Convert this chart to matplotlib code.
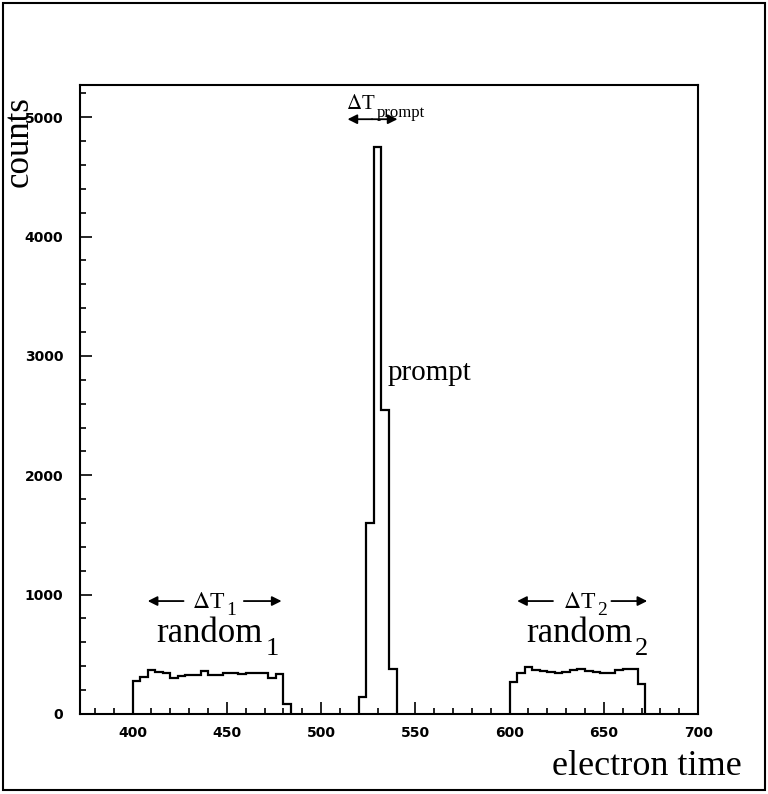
import matplotlib
matplotlib.use('Agg')
import matplotlib.pyplot as plt
from matplotlib.patches import Rectangle
from matplotlib.ticker import MultipleLocator
import numpy as np

plt.rcParams['font.family'] = ['Liberation Serif', 'DejaVu Serif']
plt.rcParams['mathtext.fontset'] = 'stix'

# electron time histogram, 4-unit bins
random1_edges = np.arange(400, 488, 4)
random1_counts = [280, 310, 365, 350, 345, 305, 315, 330, 330, 360,
                  325, 330, 340, 345, 335, 345, 340, 340, 300, 335, 85]

prompt_edges = np.arange(520, 544, 4)
prompt_counts = [140, 1600, 4750, 2550, 380]

random2_edges = np.arange(600, 676, 4)
random2_counts = [265, 340, 395, 365, 360, 350, 345, 355, 365, 375,
                  360, 350, 340, 345, 370, 380, 375, 250]

fig = plt.figure(figsize=(7.68, 7.94), dpi=100)
ax = fig.add_axes([0.104, 0.1008, 0.805, 0.7922])

for edges, counts in [(random1_edges, random1_counts),
                      (prompt_edges, prompt_counts),
                      (random2_edges, random2_counts)]:
    ax.stairs(counts, edges, baseline=0, color='black', lw=1.6)

ax.set_xlim(372, 700)
ax.set_ylim(0, 5270)
ax.xaxis.set_major_locator(MultipleLocator(50))
ax.xaxis.set_minor_locator(MultipleLocator(10))
ax.yaxis.set_major_locator(MultipleLocator(1000))
ax.yaxis.set_minor_locator(MultipleLocator(200))
ax.tick_params(which='both', direction='in', top=False, right=False, width=1.2)
ax.tick_params(which='major', length=8.5)
ax.tick_params(which='minor', length=4.3)
ax.tick_params(axis='x', pad=9)
ax.tick_params(axis='y', pad=12)
for lab in ax.get_xticklabels() + ax.get_yticklabels():
    lab.set_family('DejaVu Sans')
    lab.set_fontweight('bold')
    lab.set_fontsize(10)
for sp in ax.spines.values():
    sp.set_linewidth(1.5)

# axis titles placed like the original PAW output
fig.text(0.025, 0.822, 'counts', rotation=90, fontsize=25, ha='center', va='center')
fig.text(0.966, 0.035, 'electron time', fontsize=26, ha='right', va='center')

# labels and time windows
ax.text(535, 2860, 'prompt', fontsize=21, ha='left', va='center')


def sub_label(x, y, main, sub, size, sub_size, dx, dy):
    # main text with a subscript set further down, as in the PAW labels
    t = ax.text(x, y, main, fontsize=size, ha='right', va='baseline')
    ax.text(x + dx, y - dy, sub, fontsize=sub_size, ha='left', va='baseline')
    return t


sub_label(469, 600, 'random', '1', 25, 19, 1.5, 110)
sub_label(665, 600, 'random', '2', 25, 19, 1.5, 110)

arrow = dict(arrowstyle='-|>', lw=1.3, color='black', shrinkA=0, shrinkB=0,
             mutation_scale=14)
sub_label(449, 890, r'$\Delta$T', '1', 17, 14, 0.5, 60)
ax.annotate('', xy=(408, 946), xytext=(427, 946), arrowprops=arrow)
ax.annotate('', xy=(479, 946), xytext=(459, 946), arrowprops=arrow)

sub_label(646, 890, r'$\Delta$T', '2', 17, 14, 0.5, 60)
ax.annotate('', xy=(604, 946), xytext=(623, 946), arrowprops=arrow)
ax.annotate('', xy=(673, 946), xytext=(654, 946), arrowprops=arrow)

sub_label(529, 5070, r'$\Delta$T', 'prompt', 15, 12, 0.3, 70)
ax.annotate('', xy=(514, 4983), xytext=(527, 4983), arrowprops=arrow)
ax.annotate('', xy=(540.5, 4983), xytext=(527, 4983), arrowprops=arrow)

# frame around the whole page
fig.patches.append(Rectangle((0.004, 0.005), 0.992, 0.991, transform=fig.transFigure,
                             fill=False, lw=1.5, color='black'))

fig.savefig('out.png', dpi=100)
